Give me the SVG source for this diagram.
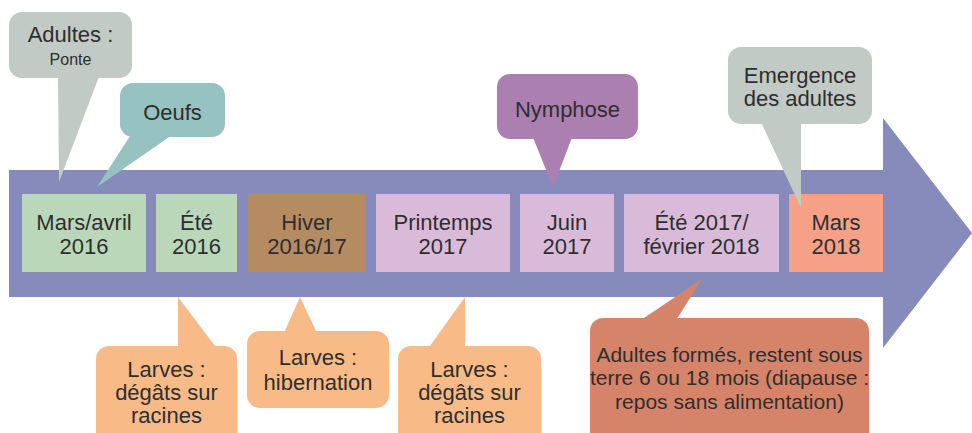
<svg xmlns="http://www.w3.org/2000/svg" width="972" height="433" viewBox="0 0 972 433">
  <style>
    text { font-family: "Liberation Sans", Arial, sans-serif; fill: #2e2e2e; text-anchor: middle; }
    .t { font-size: 22px; }
    .s { font-size: 16px; }
    .b { font-size: 21px; }
    .green { fill: #bad8b9; }
    .brown { fill: #b58b62; }
    .lilac { fill: #d9bbd9; }
    .salmon { fill: #f6a088; }
    .grey { fill: #c1cac5; }
    .teal { fill: #96c2c1; }
    .purple { fill: #ab7fb0; }
    .orange { fill: #f8bb88; }
    .rust { fill: #d5846a; }
  </style>

  <!-- timeline arrow -->
  <polygon id="timeline" points="9,170 883,170 883,118 972,233 883,348 883,297 9,297" fill="#868bbc"/>

  <!-- period boxes -->
  <g id="p-mars2016">
    <rect class="green" x="22" y="194" width="124" height="78"/>
    <text class="t" x="84" y="230">Mars/avril</text>
    <text class="t" x="84" y="254">2016</text>
  </g>
  <g id="p-ete2016">
    <rect class="green" x="156" y="194" width="81" height="78"/>
    <text class="t" x="196.5" y="230">Été</text>
    <text class="t" x="196.5" y="254">2016</text>
  </g>
  <g id="p-hiver">
    <rect class="brown" x="248" y="194" width="118" height="78"/>
    <text class="t" x="307" y="230">Hiver</text>
    <text class="t" x="307" y="254">2016/17</text>
  </g>
  <g id="p-printemps">
    <rect class="lilac" x="376" y="194" width="134" height="78"/>
    <text class="t" x="443" y="230">Printemps</text>
    <text class="t" x="443" y="254">2017</text>
  </g>
  <g id="p-juin">
    <rect class="lilac" x="520" y="194" width="94" height="78"/>
    <text class="t" x="567" y="230">Juin</text>
    <text class="t" x="567" y="254">2017</text>
  </g>
  <g id="p-ete2017">
    <rect class="lilac" x="624" y="194" width="155" height="78"/>
    <text class="t" x="701.5" y="230">Été 2017/</text>
    <text class="t" x="701.5" y="254">février 2018</text>
  </g>
  <g id="p-mars2018">
    <rect class="salmon" x="789" y="194" width="94" height="78"/>
    <text class="t" x="836" y="230">Mars</text>
    <text class="t" x="836" y="254">2018</text>
  </g>

  <!-- callout pointers -->
  <g id="connectors">
    <polygon class="grey" points="58,74 100,74 59,182"/>
    <polygon class="teal" points="132,133 175,133 97,187"/>
    <polygon class="purple" points="532,135 573,135 553,187"/>
    <polygon class="grey" points="760,120 801,120 801,208"/>
    <polygon class="orange" points="178,350 178,297 218,350"/>
    <polygon class="orange" points="283,335 300,297 318,335"/>
    <polygon class="orange" points="427,350 465,297 465,350"/>
    <polygon class="rust" points="638,322 702,279 675,322"/>
  </g>

  <!-- callouts -->
  <g id="c-adultes">
    <rect class="grey" x="9" y="12" width="123" height="66" rx="13"/>
    <text class="t" x="70.5" y="42">Adultes :</text>
    <text class="s" x="70.5" y="65">Ponte</text>
  </g>
  <g id="c-oeufs">
    <rect class="teal" x="120" y="83" width="105" height="54" rx="13"/>
    <text class="t" x="172.5" y="120">Oeufs</text>
  </g>
  <g id="c-nymphose">
    <rect class="purple" x="497" y="74" width="141" height="65" rx="13"/>
    <text class="t" x="567.5" y="117">Nymphose</text>
  </g>
  <g id="c-emergence">
    <rect class="grey" x="728" y="47" width="144" height="77" rx="13"/>
    <text class="t" x="800" y="83">Emergence</text>
    <text class="t" x="800" y="106">des adultes</text>
  </g>
  <g id="c-larves1">
    <rect class="orange" x="96" y="346" width="141" height="100" rx="13"/>
    <text class="t" x="166.5" y="377">Larves :</text>
    <text class="t" x="166.5" y="400">dégâts sur</text>
    <text class="t" x="166.5" y="423">racines</text>
  </g>
  <g id="c-larves2">
    <rect class="orange" x="247" y="331" width="142" height="77" rx="13"/>
    <text class="t" x="318" y="365">Larves :</text>
    <text class="t" x="318" y="390">hibernation</text>
  </g>
  <g id="c-larves3">
    <rect class="orange" x="398" y="346" width="143" height="100" rx="13"/>
    <text class="t" x="469.5" y="377">Larves :</text>
    <text class="t" x="469.5" y="400">dégâts sur</text>
    <text class="t" x="469.5" y="423">racines</text>
  </g>
  <g id="c-diapause">
    <rect class="rust" x="590" y="318" width="279" height="128" rx="13"/>
    <text class="b" x="729.5" y="362">Adultes formés, restent sous</text>
    <text class="b" x="729.5" y="385">terre 6 ou 18 mois (diapause :</text>
    <text class="b" x="729.5" y="409">repos sans alimentation)</text>
  </g>
</svg>
